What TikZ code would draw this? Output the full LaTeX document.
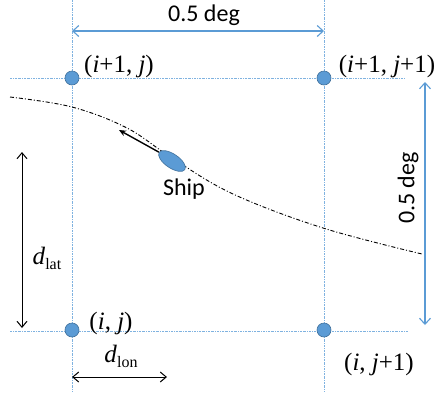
\documentclass[tikz,border=0pt]{standalone}
\usepackage{fontspec}
\setmainfont{Liberation Serif}
\newfontfamily\calib{Carlito}
\usetikzlibrary{arrows.meta,shapes.geometric}
\definecolor{offblue}{HTML}{5B9BD5}
\definecolor{edgeblue}{HTML}{41719C}
\definecolor{gridblue}{HTML}{7FB2E0}
\begin{document}
\begin{tikzpicture}[x=1pt,y=-1pt,
  gridline/.style={gridblue,line width=0.7pt,dash pattern=on 2pt off 1pt on 0.6pt off 1pt},
  gridpt/.style={circle,fill=offblue,draw=edgeblue,line width=0.6pt,minimum size=14pt,inner sep=0pt},
  idx/.style={font=\fontsize{25}{25}\selectfont,inner sep=0pt},
  cal/.style={font=\calib\fontsize{24}{24}\selectfont,inner sep=0pt},
  dimarrow/.style={offblue,line width=1.1pt,{Straight Barb[length=6pt,width=11pt]}-{Straight Barb[length=6pt,width=11pt]}},
  blkarrow/.style={black,line width=1pt,{Straight Barb[length=6pt,width=10pt]}-{Straight Barb[length=6pt,width=10pt]}},
  track/.style={black,line width=0.9pt,dash pattern=on 4pt off 2pt on 1pt off 2pt}]
\useasboundingbox (0,0) rectangle (440,392);
% grid lines
\coordinate (vlt) at (72,0);   \coordinate (vlb) at (72,392);
\coordinate (vrt) at (324,0);  \coordinate (vrb) at (324,392);
\coordinate (htl) at (10,78);  \coordinate (htr) at (405,78);
\coordinate (hbl) at (10,331); \coordinate (hbr) at (408,331);
\draw[gridline] (vlt) -- (vlb);
\draw[gridline] (vrt) -- (vrb);
\draw[gridline] (htl) -- (htr);
\draw[gridline] (hbl) -- (hbr);
% grid points
\node[gridpt] (p10) at (72,78) {};
\node[gridpt] (p11) at (324,78) {};
\node[gridpt] (p00) at (72,330) {};
\node[gridpt] (p01) at (324,330) {};
% labels
\node[idx] (l10) at (119,66) {(\textit{i}+1, \textit{j})};
\node[idx] (l11) at (387,66) {(\textit{i}+1, \textit{j}+1)};
\node[idx] (l00) at (111,323) {(\textit{i}, \textit{j})};
\node[idx] (l01) at (379,364) {(\textit{i}, \textit{j}+1)};
% 0.5 deg arrows
\coordinate (tal) at (72,31); \coordinate (tar) at (324,31);
\draw[dimarrow] (tal) -- (tar);
\node[cal] (tdeg) at (204,15) {0.5 deg};
\coordinate (rat) at (425,82); \coordinate (rab) at (425,325);
\draw[dimarrow] (rat) -- (rab);
\node[cal,rotate=90] (rdeg) at (408,188) {0.5 deg};
% ship track
\draw[track] plot[smooth,tension=0.6] coordinates {(10,97) (72,107) (127,128) (172,158) (233,194) (323,228) (422,254)};
\node[ellipse,fill=offblue,draw=edgeblue,line width=0.6pt,minimum width=31pt,minimum height=14pt,inner sep=0pt,rotate=-34] (ship) at (172,161) {};
\coordinate (head) at (119,130);
\draw[black,line width=1.4pt,-{Stealth[length=7pt,width=6pt]}] (ship.west) -- (head);
\node[cal] (shiplbl) at (184,189) {Ship};
% d_lat, d_lon
\coordinate (dlt) at (22,152); \coordinate (dlb) at (22,328);
\draw[blkarrow] (dlt) -- (dlb);
\node[idx] (dlat) at (47,258) {\textit{d}\raisebox{-5pt}{\fontsize{16}{16}\selectfont lat}};
\coordinate (dol) at (72,377); \coordinate (dor) at (167,377);
\draw[blkarrow] (dol) -- (dor);
\node[idx] (dlon) at (121,356) {\textit{d}\raisebox{-5pt}{\fontsize{16}{16}\selectfont lon}};
\end{tikzpicture}
\end{document}
